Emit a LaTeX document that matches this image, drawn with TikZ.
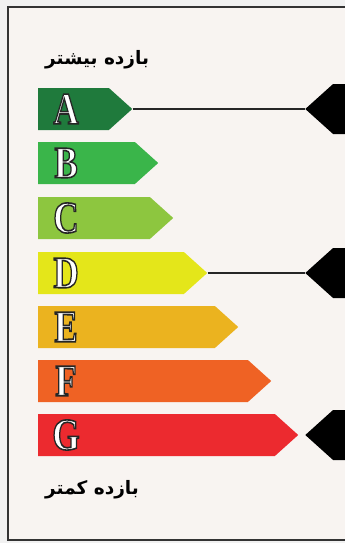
\documentclass[tikz,border=0pt]{standalone}
\usepackage{fontspec}
\setmainfont{Liberation Serif}
\newfontfamily\farsifont[Script=Arabic]{DejaVu Sans}
\TeXXeTstate=1
\usetikzlibrary{shapes.symbols,positioning}

\definecolor{gradeA}{HTML}{1F7A3C}
\definecolor{gradeB}{HTML}{3AB54A}
\definecolor{gradeC}{HTML}{8DC63F}
\definecolor{gradeD}{HTML}{E4E61A}
\definecolor{gradeE}{HTML}{EBB31F}
\definecolor{gradeF}{HTML}{EF6224}
\definecolor{gradeG}{HTML}{EC2A2F}
\definecolor{panelbg}{HTML}{F8F4F1}
\definecolor{pagebg}{HTML}{F1F1F1}

% white letter with a dark outline (fill + stroke render mode)
\newcommand\gradeletter[1]{\scalebox{0.78}[1]{\special{pdf:literal direct 2 Tr 0.15 G 1.6 w}#1\special{pdf:literal direct 0 Tr}}}

\begin{document}
\begin{tikzpicture}[
    x=1pt, y=1pt,
    bar/.style={shape=signal, signal to=east, signal pointer angle=84, fill=#1, draw=none, minimum height=42pt, inner sep=0pt, anchor=west},
    pointer/.style={shape=signal, signal to=west, signal pointer angle=84, fill=black, draw=none, minimum height=50pt, minimum width=80pt, inner sep=0pt, anchor=west},
    grade/.style={font=\fontsize{45}{45}\selectfont\bfseries, text=white, inner sep=0pt},
    tag/.style={font=\farsifont\bfseries\fontsize{18.5}{22}\selectfont, anchor=west, inner sep=0pt},
    link/.style={line width=1.2pt, color=black!85},
]

% ── Page and frame ──
\useasboundingbox[fill=pagebg] (0,0) rectangle (345,-543);
\draw[line width=1.6pt, draw=black!80, fill=panelbg] (8,-7) rectangle (370,-540);

% ── Rating bars ──
\node[bar=gradeA, minimum width=94pt] (A) at (38,-109) {};
\node[bar=gradeB, minimum width=120pt] (B) at (38,-163) {};
\node[bar=gradeC, minimum width=135pt] (C) at (38,-218) {};
\node[bar=gradeD, minimum width=169pt] (D) at (38,-273) {};
\node[bar=gradeE, minimum width=200pt] (E) at (38,-327) {};
\node[bar=gradeF, minimum width=233pt] (F) at (38,-381) {};
\node[bar=gradeG, minimum width=260pt] (G) at (38,-435) {};

% ── Letters ──
\node[grade] (lA) at ([xshift=28pt]A.west) {\gradeletter{A}};
\node[grade] (lB) at ([xshift=28pt]B.west) {\gradeletter{B}};
\node[grade] (lC) at ([xshift=28pt]C.west) {\gradeletter{C}};
\node[grade] (lD) at ([xshift=28pt]D.west) {\gradeletter{D}};
\node[grade] (lE) at ([xshift=28pt]E.west) {\gradeletter{E}};
\node[grade] (lF) at ([xshift=28pt]F.west) {\gradeletter{F}};
\node[grade] (lG) at ([xshift=28pt]G.west) {\gradeletter{G}};

% ── Markers ──
\node[pointer] (pA) at (305,-109) {};
\node[pointer] (pD) at (305,-273) {};
\node[pointer] (pG) at (305,-435) {};

\draw[link] (A.east) -- (pA.west);
\draw[link] (D.east) -- (pD.west);

% ── Labels ──
\node[tag] (high) at (45,-60) {\beginR بازده بیشتر\endR};
\node[tag] (low) at (45,-490) {\beginR بازده کمتر\endR};

\end{tikzpicture}
\end{document}
